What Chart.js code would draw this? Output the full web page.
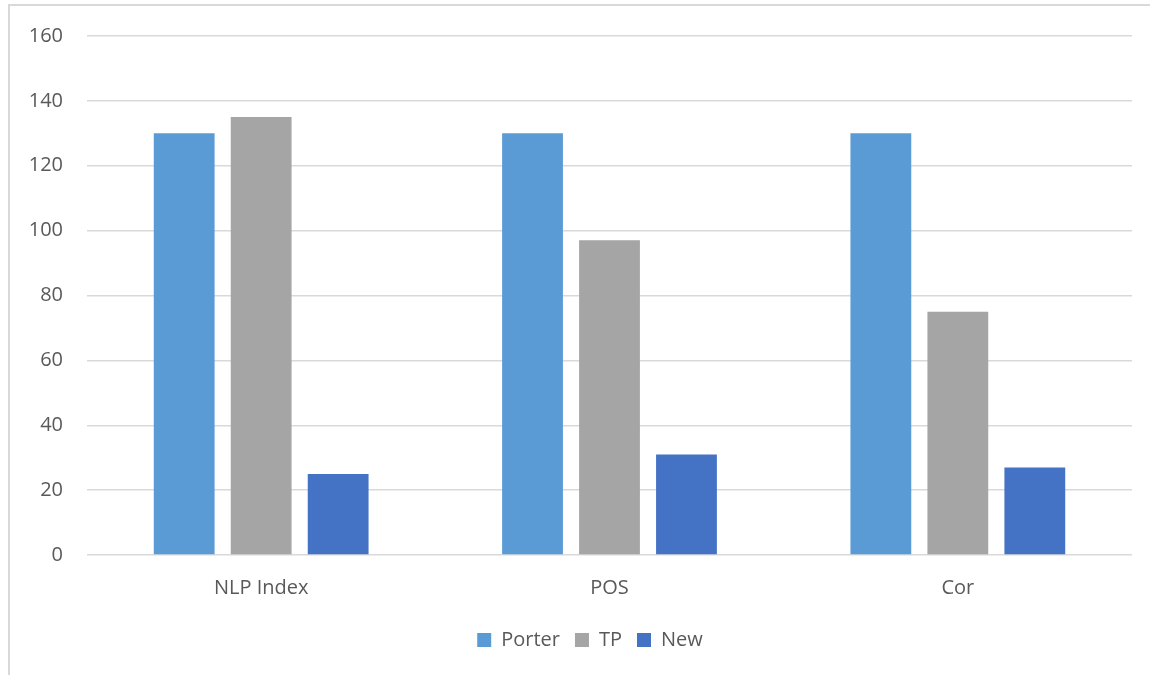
<!DOCTYPE html>
<html>
<head>
<meta charset="utf-8">
<script src="https://cdn.jsdelivr.net/npm/chart.js@4/dist/chart.umd.min.js"></script>
<style>
  html, body { margin: 0; padding: 0; background: #fff; }
  #wrap { position: relative; width: 1150px; height: 675px; }
</style>
</head>
<body>
<div id="wrap"><canvas id="c" width="1150" height="675"></canvas></div>
<script>
const categories = ["NLP Index", "POS", "Cor"];
const porter = [130, 130, 130];
const tp = [135, 97, 75];
const newer = [25, 31, 27];
const yTicks = [0, 20, 40, 60, 80, 100, 120, 140, 160];

const textColor = "#595959";
const gridColor = "#d9d9d9";
const fontFamily = "'Open Sans', 'Noto Sans', sans-serif";

// light outer frame, open at the right and bottom
const framePlugin = {
  id: "frame",
  beforeDraw(chart) {
    const ctx = chart.ctx;
    ctx.save();
    ctx.fillStyle = "#ffffff";
    ctx.fillRect(0, 0, chart.width, chart.height);
    ctx.strokeStyle = gridColor;
    ctx.lineWidth = 2;
    ctx.beginPath();
    ctx.moveTo(9, chart.height);
    ctx.lineTo(9, 5);
    ctx.lineTo(chart.width, 5);
    ctx.stroke();
    ctx.restore();
  }
};

// nudge the legend a little to the right of the canvas centre
const legendShift = {
  id: "legendShift",
  afterLayout(chart) {
    if (chart.legend) {
      chart.legend.left += 24;
      chart.legend.right += 24;
    }
  }
};

new Chart(document.getElementById("c"), {
  type: "bar",
  data: {
    labels: categories,
    datasets: [
      { label: "Porter", data: porter, backgroundColor: "#5b9bd5" },
      { label: "TP", data: tp, backgroundColor: "#a5a5a5" },
      { label: "New", data: newer, backgroundColor: "#4472c4" }
    ]
  },
  options: {
    responsive: false,
    animation: false,
    devicePixelRatio: 1,
    layout: { padding: { top: 32, right: 18, bottom: 15, left: 0 } },
    datasets: { bar: { categoryPercentage: 0.663, barPercentage: 0.79 } },
    scales: {
      x: {
        grid: { display: false, drawTicks: false },
        border: { display: false },
        ticks: { color: textColor, font: { family: fontFamily, size: 20 }, padding: 21 },
        afterFit(scale) { scale.height = 60; }
      },
      y: {
        min: 0, max: 160,
        afterBuildTicks(scale) { scale.ticks = yTicks.map(v => ({ value: v })); },
        grid: { color: gridColor, lineWidth: 1.5, drawTicks: false },
        border: { display: false },
        ticks: { color: textColor, font: { family: fontFamily, size: 20 }, padding: 24 },
        afterFit(scale) { scale.width = 87; }
      }
    },
    plugins: {
      legend: {
        position: "bottom",
        labels: {
          color: textColor,
          font: { family: fontFamily, size: 20 },
          boxWidth: 14, boxHeight: 14, padding: 15
        }
      },
      tooltip: { enabled: false }
    }
  },
  plugins: [framePlugin, legendShift]
});
</script>
</body>
</html>
